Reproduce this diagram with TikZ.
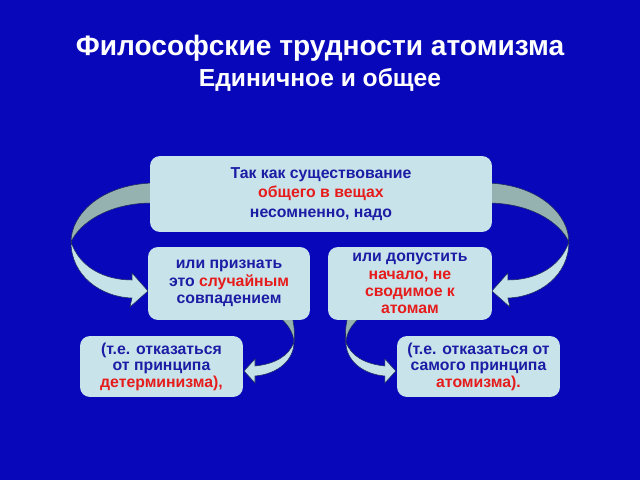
\documentclass[tikz,border=0pt]{standalone}
\usepackage{fontspec}
\setmainfont{Liberation Sans}
\definecolor{bg}{RGB}{8,8,186}
\definecolor{boxfill}{RGB}{200,228,234}
\definecolor{tb}{RGB}{28,28,165}
\definecolor{tr}{RGB}{230,28,28}
\definecolor{bandback}{RGB}{150,178,176}
\definecolor{bandfront}{RGB}{196,226,232}
\definecolor{bandline}{RGB}{30,40,90}

\begin{document}
\begin{tikzpicture}[
      x=0.02cm, y=-0.02cm,
      box/.style={fill=boxfill, rounded corners=0.2cm, align=center,
        inner sep=0pt, text=tb,
        font=\bfseries\fontsize{9}{11.3}\selectfont},
      backband/.style={fill=bandback, draw=bandline, line width=.3pt},
      frontband/.style={fill=bandfront, draw=bandline, line width=.3pt}]

        \fill[bg] (0,0) rectangle (640,480);
        \useasboundingbox (0,0) rectangle (640,480);

        % titles
        \node[text=white, font=\bfseries\fontsize{16}{19}\selectfont] (title) at (320,48)
          {Философские трудности атомизма};
        \node[text=white, font=\bfseries\fontsize{14}{17}\selectfont] (subtitle) at (320,80)
          {Единичное и общее};

        % curved arrows, left side and its mirror
        \foreach \s/\d in {1/0, -1/12.8}
        {
        \begin{scope}[xshift=\d cm, xscale=\s]
          \draw[backband] (152,183) .. controls (100,185) and (71,215) .. (71,242)
            .. controls (80,222) and (110,203) .. (152,203) -- cycle;
          \draw[frontband] (71,242) .. controls (71,275) and (100,297) .. (132,298)
            -- (130,307) -- (148,291) -- (132,273) -- (132,280)
            .. controls (105,280) and (80,268) .. (71,242) -- cycle;

          \draw[backband] (278,316) .. controls (288,324) and (293,332) .. (294,342)
            .. controls (295,332) and (294,325) .. (292,316) -- cycle;
          \draw[frontband] (294,342) .. controls (294,360) and (278,374) .. (255,376)
            -- (255,383) -- (244,371) -- (255,359) -- (255,366)
            .. controls (275,364) and (289,356) .. (294,342) -- cycle;
        \end{scope}
        }

        % boxes
        \node[box, minimum width=6.84cm, minimum height=1.52cm] (top) at (321,194)
          {Так как существование\\ \textcolor{tr}{общего в вещах}\\ несомненно, надо};

        \node[box, minimum width=3.24cm, minimum height=1.46cm,
              font=\bfseries\fontsize{9}{9.8}\selectfont] (chance) at (229,283.5)
          {или признать\\ это \textcolor{tr}{случайным}\\ совпадением};
        \node[box, minimum width=3.28cm, minimum height=1.46cm,
              font=\bfseries\fontsize{9}{9.8}\selectfont] (origin) at (410,283.5)
          {или допустить\\ \textcolor{tr}{начало, не}\\ \textcolor{tr}{сводимое к}\\ \textcolor{tr}{атомам}};

        \node[box, minimum width=3.26cm, minimum height=1.22cm,
              font=\bfseries\fontsize{9}{9.4}\selectfont] (determ) at (161.5,366.5)
          {(т.е. отказаться\\ от принципа\\ \textcolor{tr}{детерминизма),}};
        \node[box, minimum width=3.26cm, minimum height=1.22cm,
              font=\bfseries\fontsize{9}{9.4}\selectfont] (atomism) at (478.5,366.5)
          {(т.е. отказаться от\\ самого принципа\\ \textcolor{tr}{атомизма).}};

      \end{tikzpicture}
\end{document}
